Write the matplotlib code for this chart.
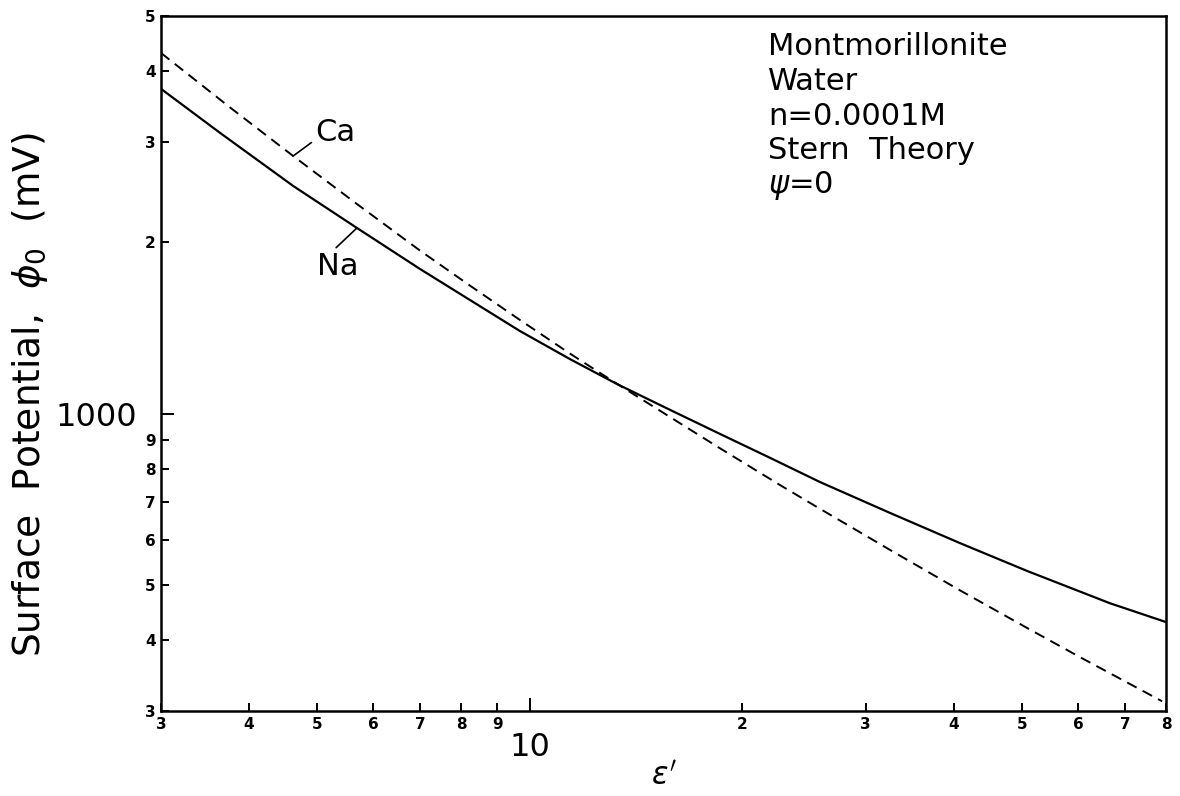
"""
Surface potential vs. dielectric constant for montmorillonite in water (Stern theory).
"""

import matplotlib
matplotlib.use("Agg")
import matplotlib.pyplot as plt
from matplotlib.ticker import FixedLocator, FixedFormatter

# Data
eps_na = [3.0, 3.64, 4.62, 5.69, 6.99, 8.23, 9.69, 11.41, 13.31, 15.83, 18.63,
          21.94, 25.83, 32.46, 40.80, 50.79, 66.63, 80.0]
phi_na = [3723, 3114, 2513, 2120, 1796, 1584, 1397, 1247, 1127, 1015, 921,
          836, 758, 669, 592, 529, 464, 430]

eps_ca = [3.0, 3.76, 4.62, 5.69, 6.99, 8.23, 9.69, 11.41, 13.31, 15.83, 18.63,
          22.66, 25.58, 32.46, 40.80, 50.79, 60.42, 79.0]
phi_ca = [4305, 3452, 2837, 2336, 1935, 1679, 1461, 1275, 1128, 986, 869,
          749, 685, 576, 489, 420, 373, 312]

# tick positions / labels
x_minor = [3, 4, 5, 6, 7, 8, 9, 20, 30, 40, 50, 60, 70, 80]
x_minor_labels = ['3', '4', '5', '6', '7', '8', '9', '2', '3', '4', '5', '6', '7', '8']
x_major = [10]
x_major_labels = ['10']

y_minor = [300, 400, 500, 600, 700, 800, 900, 2000, 3000, 4000, 5000]
y_minor_labels = ['3', '4', '5', '6', '7', '8', '9', '2', '3', '4', '5']
y_major = [1000]
y_major_labels = ['1000']

info_lines = ['Montmorillonite', 'Water', 'n=0.0001M', 'Stern  Theory', r'$\psi$=0']

plt.rcParams['font.family'] = ['DejaVu Sans']
plt.rcParams['mathtext.fontset'] = 'dejavusans'

fig = plt.figure(figsize=(11.8, 7.96), dpi=100)
ax = fig.add_axes([161 / 1180, 1 - 711 / 796, 1005 / 1180, 695 / 796])

ax.plot(eps_na, phi_na, color='black', linewidth=1.6, linestyle='-')
ax.plot(eps_ca, phi_ca, color='black', linewidth=1.4, linestyle=(0, (5.5, 3.5)))

ax.set_xscale('log')
ax.set_yscale('log')
ax.set_xlim(3, 80)
ax.set_ylim(300, 5000)

for side in ax.spines.values():
    side.set_linewidth(1.8)

ax.xaxis.set_major_locator(FixedLocator(x_major))
ax.xaxis.set_major_formatter(FixedFormatter(x_major_labels))
ax.xaxis.set_minor_locator(FixedLocator(x_minor))
ax.xaxis.set_minor_formatter(FixedFormatter(x_minor_labels))
ax.yaxis.set_major_locator(FixedLocator(y_major))
ax.yaxis.set_major_formatter(FixedFormatter(y_major_labels))
ax.yaxis.set_minor_locator(FixedLocator(y_minor))
ax.yaxis.set_minor_formatter(FixedFormatter(y_minor_labels))

ax.tick_params(which='both', direction='in', top=False, right=False, width=1.4)
ax.tick_params(which='minor', length=6, labelsize=11, pad=4)
ax.tick_params(which='major', length=9.5, labelsize=23)
ax.tick_params(axis='x', which='major', pad=15)
ax.tick_params(axis='y', which='major', pad=17)
for lbl in ax.get_xticklabels(minor=True) + ax.get_yticklabels(minor=True):
    lbl.set_fontweight('bold')

# axis labels
fig.text(30 / 1180, 1 - 395 / 796, r'Surface  Potential,  $\phi_0$  (mV)',
         rotation=90, ha='center', va='center', fontsize=27)
fig.text(664 / 1180, 1 - 776 / 796, r"$\varepsilon'$", ha='center', va='center', fontsize=22)

# info block
for i, line in enumerate(info_lines):
    ax.text(0.604, 0.956 - i * 0.0500, line, transform=ax.transAxes,
            ha='left', va='center', fontsize=22)

# curve labels with leader lines
ax.annotate('Ca', xy=(4.62, 2837), xytext=(16, 17), textcoords='offset points',
            ha='left', va='center', fontsize=22,
            arrowprops=dict(arrowstyle='-', color='black', lw=1.2,
                            shrinkA=1, shrinkB=0, relpos=(0.0, 0.25)))
ax.annotate('Na', xy=(5.69, 2120), xytext=(-29, -28), textcoords='offset points',
            ha='left', va='center', fontsize=22,
            arrowprops=dict(arrowstyle='-', color='black', lw=1.2,
                            shrinkA=2, shrinkB=0, relpos=(0.35, 1.0)))

plt.savefig('out.png', dpi=100)
plt.close()
